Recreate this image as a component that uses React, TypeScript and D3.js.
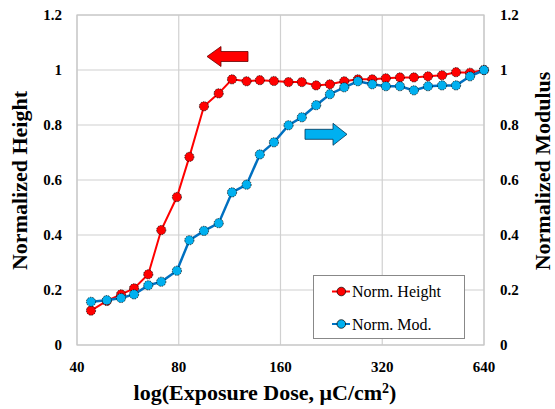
import React from "react";
import * as d3 from "d3";

const doses = [44, 49, 54, 59, 65, 71, 79, 86, 95, 105, 115, 127, 139, 153, 169, 185, 204, 224, 247, 271, 299, 328, 361, 397, 437, 481, 529, 582, 640];
const normHeight = [0.125, 0.16, 0.184, 0.206, 0.257, 0.418, 0.538, 0.684, 0.868, 0.915, 0.966, 0.959, 0.963, 0.96, 0.956, 0.956, 0.944, 0.948, 0.959, 0.966, 0.966, 0.97, 0.973, 0.973, 0.977, 0.981, 0.992, 0.99, 1.0];
const normMod = [0.157, 0.163, 0.171, 0.184, 0.217, 0.23, 0.27, 0.381, 0.415, 0.443, 0.555, 0.583, 0.693, 0.737, 0.799, 0.828, 0.872, 0.912, 0.937, 0.959, 0.948, 0.941, 0.941, 0.926, 0.941, 0.944, 0.944, 0.977, 1.0];
const xTicks = [40, 80, 160, 320, 640];
const yTicks = [0, 0.2, 0.4, 0.6, 0.8, 1, 1.2];
const seriesNames = ["Norm. Height", "Norm. Mod."];

const W = 555, H = 409;
const L = 77, R = 484, T = 15, B = 345;
const font = "Liberation Serif, DejaVu Serif, serif";

export default function App() {
  const x = d3.scaleLog().base(2).domain([40, 640]).range([L, R]);
  const y = d3.scaleLinear().domain([0, 1.2]).range([B, T]);
  const line = d3.line<[number, number]>().x(d => x(d[0])).y(d => y(d[1]));
  const hPts: [number, number][] = doses.map((d, i) => [d, normHeight[i]]);
  const mPts: [number, number][] = doses.map((d, i) => [d, normMod[i]]);
  const red = "#ff0000", blueLine = "#0070c0", blueFill = "#00b0f0";

  const leftArrow = (x0: number, x1: number, yc: number) => {
    const hb = x0 + 14;
    return `M${x0},${yc} L${hb},${yc - 10} L${hb},${yc - 5} L${x1},${yc - 5} L${x1},${yc + 5} L${hb},${yc + 5} L${hb},${yc + 10} Z`;
  };
  const rightArrow = (x0: number, x1: number, yc: number) => {
    const hb = x1 - 14;
    return `M${x1},${yc} L${hb},${yc - 11} L${hb},${yc - 5} L${x0},${yc - 5} L${x0},${yc + 5} L${hb},${yc + 5} L${hb},${yc + 11} Z`;
  };
  const fmt = (t: number) => String(+t.toFixed(1));

  return (
    <svg width={W} height={H} style={{ position: "absolute", left: 0, top: 0, background: "#fff" }}>
      <rect x={0} y={0} width={W} height={H} fill="#fff" />
      {yTicks.map(t => (
        <line key={"gy" + t} x1={L} x2={R} y1={y(t)} y2={y(t)} stroke="#d0d0d0" strokeWidth={1.2} />
      ))}
      {xTicks.map(t => (
        <line key={"gx" + t} x1={x(t)} x2={x(t)} y1={T} y2={B} stroke="#d0d0d0" strokeWidth={1.2} />
      ))}
      <rect x={L} y={T} width={R - L} height={B - T} fill="none" stroke="#c8c8c8" strokeWidth={1.2} />

      {yTicks.map(t => (
        <text key={"yl" + t} x={62} y={y(t)} dy="0.35em" textAnchor="end" fontFamily={font} fontWeight="bold" fontSize={15} fill="#000">{fmt(t)}</text>
      ))}
      {yTicks.map(t => (
        <text key={"yr" + t} x={500} y={y(t)} dy="0.35em" textAnchor="start" fontFamily={font} fontWeight="bold" fontSize={15} fill="#000">{fmt(t)}</text>
      ))}
      {xTicks.map(t => (
        <text key={"xl" + t} x={x(t)} y={367} dy="0.35em" textAnchor="middle" fontFamily={font} fontWeight="bold" fontSize={15} fill="#000">{t}</text>
      ))}

      <text x={265} y={400} textAnchor="middle" fontFamily={font} fontWeight="bold" fontSize={22} fill="#000">
        log(Exposure Dose, μC/cm<tspan baselineShift="super" fontSize={14}>2</tspan>)
      </text>
      <text transform={`translate(27,180.5) rotate(-90)`} textAnchor="middle" fontFamily={font} fontWeight="bold" fontSize={22} fill="#000">Normalized Height</text>
      <text transform={`translate(550,171) rotate(-90)`} textAnchor="middle" fontFamily={font} fontWeight="bold" fontSize={22} fill="#000">Normalized Modulus</text>

      <path d={leftArrow(207, 248, 56.5)} fill={red} stroke="#600" strokeWidth={0.8} />
      <path d={rightArrow(305, 347, 134.3)} fill={blueFill} stroke="#035" strokeWidth={0.8} />

      <path d={line(hPts) || ""} fill="none" stroke={red} strokeWidth={2} />
      {hPts.map((p, i) => (
        <circle key={"h" + i} cx={x(p[0])} cy={y(p[1])} r={4.6} fill={red} stroke="#000" strokeWidth={0.7} strokeDasharray="1.5,1" />
      ))}
      <path d={line(mPts) || ""} fill="none" stroke={blueLine} strokeWidth={2.5} />
      {mPts.map((p, i) => (
        <circle key={"m" + i} cx={x(p[0])} cy={y(p[1])} r={4.6} fill={blueFill} stroke="#000" strokeWidth={0.7} strokeDasharray="1.5,1" />
      ))}

      <rect x={313.5} y={275.5} width={151} height={63} fill="#fff" stroke="#888" strokeWidth={1} />
      {seriesNames.map((n, i) => {
        const ly = 291.5 + i * 32.5;
        const c = i === 0 ? red : blueFill;
        const lc = i === 0 ? red : blueLine;
        return (
          <g key={n}>
            <line x1={332} x2={350} y1={ly} y2={ly} stroke={lc} strokeWidth={2} />
            <circle cx={341.3} cy={ly} r={4.3} fill={c} stroke="#000" strokeWidth={0.7} />
            <text x={352} y={ly} dy="0.35em" fontFamily={font} fontSize={16} fill="#000">{n}</text>
          </g>
        );
      })}
    </svg>
  );
}
